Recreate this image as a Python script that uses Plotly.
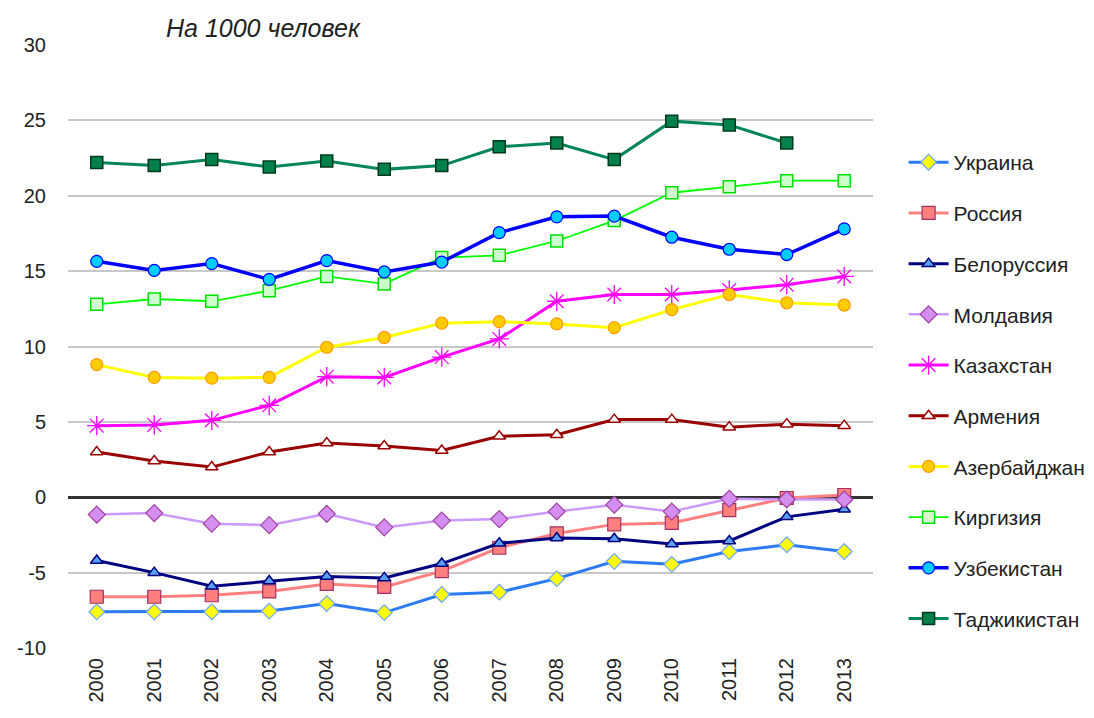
import plotly.graph_objects as go

years = [str(y) for y in range(2000, 2014)]

ukraine = [-7.6, -7.6, -7.6, -7.55, -7.05, -7.65, -6.45, -6.3, -5.4, -4.25, -4.45, -3.6, -3.15, -3.6]
russia = [-6.6, -6.6, -6.5, -6.25, -5.75, -5.95, -4.9, -3.35, -2.4, -1.8, -1.7, -0.85, -0.05, 0.15]
belarus = [-4.2, -5.0, -5.9, -5.55, -5.25, -5.35, -4.4, -3.05, -2.7, -2.75, -3.1, -2.9, -1.3, -0.8]
moldova = [-1.15, -1.05, -1.75, -1.85, -1.1, -2.0, -1.55, -1.45, -0.95, -0.5, -0.95, -0.1, -0.15, -0.15]
kazakhstan = [4.75, 4.8, 5.1, 6.1, 8.0, 7.95, 9.3, 10.5, 13.0, 13.45, 13.45, 13.75, 14.1, 14.65]
armenia = [3.0, 2.4, 2.0, 3.0, 3.6, 3.4, 3.1, 4.05, 4.15, 5.15, 5.15, 4.65, 4.85, 4.75]
azerbaijan = [8.8, 7.95, 7.9, 7.95, 9.95, 10.6, 11.55, 11.65, 11.5, 11.25, 12.45, 13.45, 12.9, 12.75]
kyrgyzstan = [12.8, 13.15, 13.0, 13.7, 14.65, 14.15, 15.9, 16.05, 17.0, 18.35, 20.2, 20.6, 21.0, 21.0]
uzbekistan = [15.65, 15.05, 15.5, 14.45, 15.7, 14.95, 15.6, 17.55, 18.6, 18.65, 17.25, 16.45, 16.1, 17.8]
tajikistan = [22.2, 22.0, 22.4, 21.9, 22.3, 21.75, 22.0, 23.25, 23.5, 22.4, 24.95, 24.7, 23.5, None]

y_ticks = [-10, -5, 0, 5, 10, 15, 20, 25, 30]
y_tick_labels = ["-10", "-5", "0", "5", "10", "15", "20", "25", "30"]

series = [
    ("Украина", ukraine, dict(color="#2a7bf5", width=3), dict(symbol="diamond", size=12, color="#ffff00", line=dict(color="#6fa8ff", width=1.2))),
    ("Россия", russia, dict(color="#ff8080", width=3), dict(symbol="square", size=13, color="#ff7f7f", line=dict(color="#a03060", width=1.2))),
    ("Белоруссия", belarus, dict(color="#000080", width=3), dict(symbol="triangle-up", size=11, color="#5aa0f0", line=dict(color="#000080", width=1.5))),
    ("Молдавия", moldova, dict(color="#cc99ff", width=2.5), dict(symbol="diamond", size=13, color="#d38ef0", line=dict(color="#a040a0", width=1.2))),
    ("Казахстан", kazakhstan, dict(color="#ff00ff", width=3), dict(symbol="asterisk-open", size=16, color="#ff00ff", line=dict(color="#ff00ff", width=1.3))),
    ("Армения", armenia, dict(color="#990000", width=3), dict(symbol="triangle-up", size=11, color="#ffffff", line=dict(color="#990000", width=1.5))),
    ("Азербайджан", azerbaijan, dict(color="#ffff00", width=3), dict(symbol="circle", size=12, color="#ffcc00", line=dict(color="#ff9900", width=1.2))),
    ("Киргизия", kyrgyzstan, dict(color="#00ff00", width=1.8), dict(symbol="square", size=12, color="#ccffcc", line=dict(color="#00e000", width=1.5))),
    ("Узбекистан", uzbekistan, dict(color="#0000ff", width=3.5), dict(symbol="circle", size=12, color="#00ccff", line=dict(color="#0000ff", width=1.2))),
    ("Таджикистан", tajikistan, dict(color="#008558", width=3), dict(symbol="square", size=12, color="#00804a", line=dict(color="#003a1a", width=1.5))),
]

fig = go.Figure()
for i, (name, vals, line, marker) in enumerate(series):
    fig.add_trace(go.Scatter(
        x=years, y=vals, name=name, mode="lines+markers",
        line=line, marker=marker, legendgroup=f"g{i}", connectgaps=False,
    ))

fig.update_layout(
    width=1086, height=710,
    margin=dict(l=60, r=221, t=37, b=70, autoexpand=False),
    plot_bgcolor="white", paper_bgcolor="white",
    font=dict(family="Liberation Sans, Arial, sans-serif", size=20, color="#222222"),
    showlegend=True,
    legend=dict(
        x=1.038, y=0.839, xanchor="left", yanchor="top",
        font=dict(size=21, color="#222222"),
        tracegroupgap=20.4, itemwidth=40,
        bgcolor="rgba(0,0,0,0)",
    ),
    annotations=[dict(
        text="<i>На 1000 человек</i>", xref="paper", yref="paper",
        x=0.243, y=1.028, xanchor="center", yanchor="middle",
        showarrow=False, font=dict(size=25, color="#222222"),
    )],
)

fig.update_xaxes(
    type="category", range=[-0.5, 13.5], showgrid=False, zeroline=False,
    showline=False, tickangle=-90, ticks="", ticklabelstandoff=5, automargin=False,
    tickfont=dict(size=20, color="#222222"),
)
fig.update_yaxes(
    range=[-10, 30], tickvals=y_ticks, ticktext=y_tick_labels,
    showgrid=True, gridcolor="#c8c8c8", gridwidth=1.5,
    zeroline=True, zerolinecolor="#333333", zerolinewidth=3,
    showline=False, ticks="", ticklabelstandoff=21, automargin=False,
    tickfont=dict(size=20, color="#222222"),
)

fig.write_html("out.html")
